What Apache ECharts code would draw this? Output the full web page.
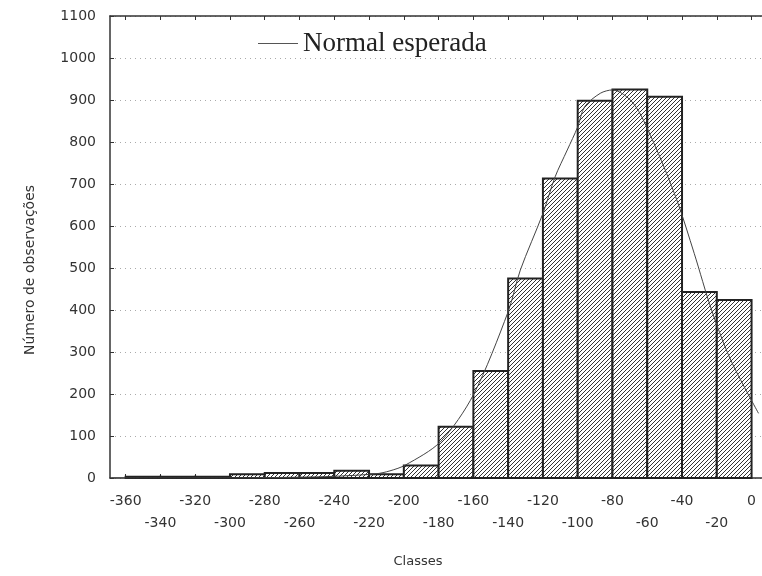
<!DOCTYPE html>
<html>
<head>
<meta charset="utf-8">
<script src="https://cdn.jsdelivr.net/npm/echarts@6/dist/echarts.min.js"></script>
<style>
html, body { margin: 0; padding: 0; background: #fff; }
#myChart { width: 762px; height: 576px; }
</style>
</head>
<body>
<div id="myChart"></div>
<script>
// classes do histograma (inicio de cada classe) e largura
var binStarts = [-360, -340, -320, -300, -280, -260, -240, -220, -200, -180, -160, -140, -120, -100, -80, -60, -40, -20];
var binWidth = 20;
// numero de observacoes por classe
var counts = [3, 3, 3, 9, 12, 12, 17, 9, 30, 122, 255, 475, 713, 898, 925, 908, 443, 424];

// curva normal esperada
var normalX = [-368, -300, -260, -240, -216, -208, -199, -179, -160, -140, -133, -120, -113, -106, -100, -96, -87, -80, -68, -57, -43, -33, -23, -12, 4];
var normalY = [0, 0, 2, 4, 10, 17, 31, 86, 198, 396, 495, 630, 717, 781, 836, 884, 916, 924, 892, 805, 662, 535, 400, 281, 154];

var xTicks = [-360, -340, -320, -300, -280, -260, -240, -220, -200, -180, -160, -140, -120, -100, -80, -60, -40, -20, 0];

// textura hachurada das barras
var tile = document.createElement('canvas');
tile.width = 4; tile.height = 4;
var ctx = tile.getContext('2d');
ctx.fillStyle = '#fff';
ctx.fillRect(0, 0, 4, 4);
ctx.fillStyle = '#333';
for (var i = 0; i < 4; i++) ctx.fillRect(i, 3 - i, 1, 1);
var hatch = { image: tile, repeat: 'repeat' };

var histData = binStarts.map(function (s, i) { return [s, s + binWidth, counts[i]]; });
var curveData = normalX.map(function (x, i) { return [x, normalY[i]]; });

var myChart = echarts.init(document.getElementById('myChart'));
myChart.setOption({
    animation: false,
    backgroundColor: '#fff',
    grid: { left: 110, top: 16, right: 0, bottom: 98 },
    legend: {
        data: [{ name: 'Normal esperada', icon: 'rect' }],
        left: 258,
        top: 30,
        padding: 0,
        itemWidth: 40,
        itemHeight: 1.2,
        itemGap: 8,
        itemStyle: { color: '#555' },
        textStyle: { fontFamily: 'Liberation Serif', fontSize: 27, color: '#222' }
    },
    xAxis: [{
        type: 'value',
        min: -369,
        max: 6,
        position: 'bottom',
        name: 'Classes',
        nameLocation: 'middle',
        nameGap: 77,
        nameTextStyle: { fontFamily: 'DejaVu Sans', fontSize: 13, color: '#333', padding: [0, 36, 0, 0] },
        axisLine: { onZero: false, lineStyle: { color: '#333', width: 1.5 } },
        axisTick: { inside: true, length: 4, customValues: xTicks, lineStyle: { color: '#333' } },
        axisLabel: {
            customValues: xTicks,
            hideOverlap: false,
            margin: 12,
            fontFamily: 'DejaVu Sans',
            fontSize: 14,
            lineHeight: 22,
            color: '#333',
            formatter: function (v) { return v % 40 === 0 ? String(v) : '\n' + v; }
        },
        splitLine: { show: false }
    }, {
        type: 'value',
        min: -369,
        max: 6,
        position: 'top',
        axisLine: { onZero: false, lineStyle: { color: '#333', width: 1.5 } },
        axisTick: { inside: true, length: 4, customValues: xTicks, lineStyle: { color: '#333' } },
        axisLabel: { show: false },
        splitLine: { show: false }
    }],
    yAxis: {
        type: 'value',
        min: 0,
        max: 1100,
        interval: 100,
        name: 'Número de observações',
        nameLocation: 'middle',
        nameGap: 73,
        nameTextStyle: { fontFamily: 'DejaVu Sans', fontSize: 14, color: '#333', padding: [0, 46, 0, 0] },
        axisLine: { show: true, onZero: false, lineStyle: { color: '#333', width: 1.5 } },
        axisTick: { show: true, inside: true, length: 4, lineStyle: { color: '#333' } },
        axisLabel: {
            fontFamily: 'DejaVu Sans', fontSize: 14, color: '#333', margin: 14,
            formatter: function (v) { return String(v); }
        },
        splitLine: { show: true, lineStyle: { color: '#aaa', type: [1, 4], width: 1 } }
    },
    series: [{
        name: 'Histograma',
        type: 'custom',
        data: histData,
        encode: { x: [0, 1], y: 2 },
        renderItem: function (params, api) {
            var p0 = api.coord([api.value(0), api.value(2)]);
            var p1 = api.coord([api.value(1), 0]);
            return {
                type: 'rect',
                shape: { x: p0[0], y: p0[1], width: p1[0] - p0[0], height: p1[1] - p0[1] },
                style: { fill: hatch, stroke: '#222', lineWidth: 2 }
            };
        }
    }, {
        name: 'Normal esperada',
        type: 'line',
        data: curveData,
        smooth: 0.3,
        symbol: 'none',
        lineStyle: { color: '#444', width: 1 },
        itemStyle: { color: '#444' },
        z: 3
    }]
});
</script>
</body>
</html>
